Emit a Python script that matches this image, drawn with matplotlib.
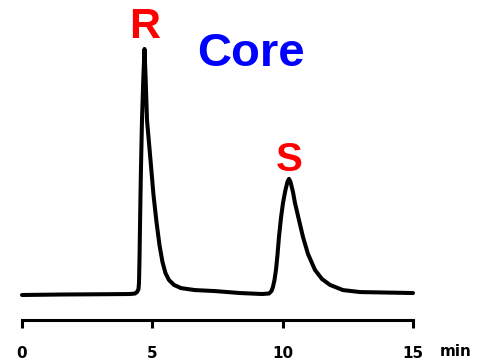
import numpy as np
import matplotlib.pyplot as plt

# chromatogram trace: time (min) and detector response (% of peak R)
time_min = [0.0, 1.5, 3.0, 4.143, 4.335, 4.411, 4.469, 4.488, 4.507, 4.526,
            4.546, 4.565, 4.603, 4.653, 4.699, 4.745, 4.795, 4.929, 5.044,
            5.159, 5.274, 5.389, 5.504, 5.638, 5.830, 6.099, 6.636, 7.40,
            8.36, 9.206, 9.474, 9.570, 9.628, 9.686, 9.743, 9.801, 9.858,
            9.935, 10.012, 10.107, 10.184, 10.242, 10.299, 10.395, 10.472,
            10.625, 10.779, 10.970, 11.239, 11.508, 11.815, 12.313, 12.965, 15.0]
response = [0.0, 0.2, 0.3, 0.4, 0.6, 1.2, 2.4, 4.9, 14.2, 27.6,
            40.7, 52.0, 71.1, 87.8, 100.0, 87.4, 71.1, 54.9, 40.7,
            29.7, 20.3, 13.4, 8.9, 6.1, 4.1, 2.8, 2.0, 1.6,
            0.8, 0.4, 0.6, 1.6, 3.3, 6.1, 10.2, 16.3, 23.6,
            31.3, 37.4, 42.7, 46.0, 47.2, 46.0, 41.9, 37.4,
            30.5, 23.6, 16.7, 10.2, 6.5, 4.1, 2.0, 1.2, 0.8]

peak_labels = ['R', 'S']
peak_times = [4.699, 10.242]
peak_heights = [100.0, 47.2]
peak_sizes = [31, 29]
peak_offsets = [8, 5.5]

tick_values = [0, 5, 10, 15]
tick_labels = ['0', '5', '10', '15']

fig = plt.figure(figsize=(4.8, 3.64), dpi=100)
fig.patch.set_facecolor('white')
ax = fig.add_axes([0, 44 / 364, 1, 320 / 364])

ax.plot(time_min, response, color='black', lw=2.9,
        solid_joinstyle='round', solid_capstyle='round')

ax.set_xlim(-0.844, 17.57)
ax.set_ylim(-10.16, 119.9)

# peak names
for lab, t, h, s, off in zip(peak_labels, peak_times, peak_heights, peak_sizes, peak_offsets):
    ax.annotate(lab, xy=(t, h), xytext=(0, off), textcoords='offset points',
                ha='center', va='baseline', color='#ff0000', fontsize=s,
                fontweight='bold', family='Liberation Sans')

fig.text(251 / 480, 1 - 66 / 364, 'Core', ha='center', va='baseline',
         color='#0000ff', fontsize=34, fontweight='bold', family='Liberation Sans')

# time axis
for side in ['left', 'right', 'top']:
    ax.spines[side].set_visible(False)
ax.spines['bottom'].set_bounds(0, 15)
ax.spines['bottom'].set_linewidth(2.2)
ax.set_yticks([])
ax.set_xticks(tick_values)
ax.set_xticklabels(tick_labels, fontweight='bold', family='DejaVu Sans')
ax.tick_params(axis='x', direction='out', length=5.8, width=2.2,
               labelsize=11, pad=13)

fig.text(440 / 480, 1 - 352 / 364, 'min', ha='left', va='center',
         fontsize=11, fontweight='bold', family='DejaVu Sans')

fig.savefig('out.png', dpi=100, facecolor='white')
